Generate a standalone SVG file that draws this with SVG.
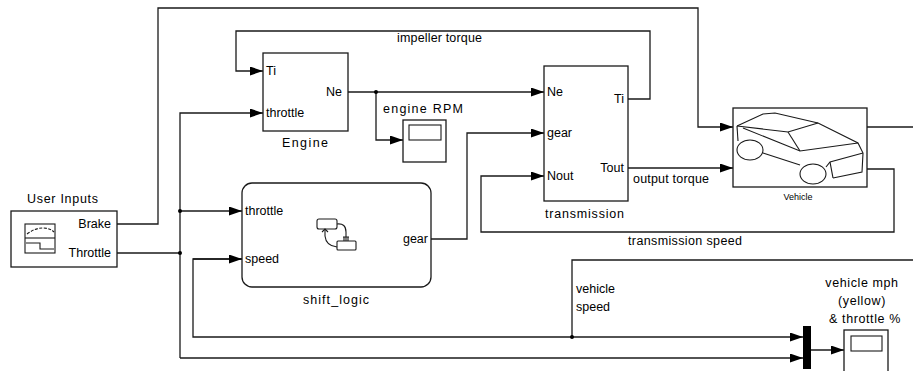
<svg xmlns="http://www.w3.org/2000/svg" width="913" height="371" viewBox="0 0 913 371">
  <style>
    .blk { fill: #fff; stroke: #1a1a1a; stroke-width: 1.3; }
    .ico { fill: none; stroke: #1a1a1a; stroke-width: 1.1; }
    .wire { fill: none; stroke: #1a1a1a; stroke-width: 1.3; }
    .arr { marker-end: url(#head); }
    .txt { font-family: "Liberation Sans", Arial, sans-serif; font-size: 12.5px; fill: #000; }
    .name { font-family: "Liberation Sans", Arial, sans-serif; font-size: 12.5px; fill: #000; }
    .end { text-anchor: end; }
    .mid { text-anchor: middle; }
  </style>
  <defs>
    <marker id="head" markerUnits="userSpaceOnUse" markerWidth="13" markerHeight="10" refX="13" refY="4.5" orient="auto">
      <path d="M0,0 L13,4.5 L0,9 z" fill="#000"/>
    </marker>
  </defs>

  <rect width="913" height="371" fill="#fff"/>

  <!-- signal lines -->
  <g id="connectors">
    <!-- Brake to Vehicle -->
    <polyline class="wire arr" points="117,224 158,224 158,8 698,8 698,127 733,127"/>
    <!-- Throttle distribution -->
    <polyline class="wire" points="117,253 180,253"/>
    <polyline class="wire arr" points="180,358 180,113 263,113"/>
    <polyline class="wire arr" points="180,211 242,211"/>
    <polyline class="wire arr" points="180,358 803,358"/>
    <!-- impeller torque feedback -->
    <polyline class="wire arr" points="628,99 650,99 650,31 236,31 236,71 263,71"/>
    <!-- engine speed -->
    <polyline class="wire arr" points="348,92 544,92"/>
    <polyline class="wire arr" points="376,92 376,140 403,140"/>
    <!-- gear -->
    <polyline class="wire arr" points="431,239 467,239 467,133 544,133"/>
    <!-- output torque -->
    <polyline class="wire arr" points="628,168 733,168"/>
    <!-- vehicle outputs -->
    <polyline class="wire" points="867,127 913,127"/>
    <polyline class="wire arr" points="867,169 894,169 894,232 481,232 481,176 544,176"/>
    <!-- vehicle speed -->
    <polyline class="wire" points="913,260 572,260 572,337"/>
    <polyline class="wire" points="242,259 193,259 193,337 572,337"/>
    <path class="wire arr" d="M193,259 L242,259"/>
    <path class="wire arr" d="M572,337 L803,337"/>
    <!-- mux to scope -->
    <polyline class="wire arr" points="811,350 844,350"/>
    <!-- branch points -->
    <circle cx="180" cy="211" r="2" fill="#000"/>
    <circle cx="180" cy="253" r="2" fill="#000"/>
    <circle cx="376" cy="92" r="2" fill="#000"/>
    <circle cx="572" cy="337" r="2" fill="#000"/>
    <!-- line labels -->
    <text class="txt" x="397" y="42" textLength="85" lengthAdjust="spacing">impeller torque</text>
    <text class="txt" x="633" y="183" textLength="76" lengthAdjust="spacing">output torque</text>
    <text class="txt" x="628" y="245" textLength="114" lengthAdjust="spacing">transmission speed</text>
    <text class="txt" x="576" y="293">vehicle</text>
    <text class="txt" x="576" y="311">speed</text>
  </g>

  <!-- User Inputs -->
  <g id="user-inputs">
    <rect class="blk" x="11" y="211" width="106" height="56"/>
    <rect class="ico" x="25" y="224" width="30" height="29"/>
    <line class="ico" x1="25" y1="238" x2="55" y2="238"/>
    <path class="ico" d="M27,234 Q35,228 43,228 Q50,228 54,232" stroke-dasharray="3,1.5"/>
    <polyline class="ico" points="26,243 40,243 40,249 54,249"/>
    <text class="txt end" x="111" y="228">Brake</text>
    <text class="txt end" x="111" y="257">Throttle</text>
    <text class="name" x="27" y="203" textLength="71" lengthAdjust="spacing">User Inputs</text>
  </g>

  <!-- Engine -->
  <g id="engine">
    <rect class="blk" x="263" y="53" width="85" height="78"/>
    <text class="txt" x="266" y="75">Ti</text>
    <text class="txt" x="266" y="117">throttle</text>
    <text class="txt end" x="342" y="96">Ne</text>
    <text class="name" x="282" y="147" textLength="46" lengthAdjust="spacing">Engine</text>
  </g>

  <!-- engine RPM scope -->
  <g id="engine-rpm">
    <rect class="blk" x="403" y="120" width="43" height="42"/>
    <rect class="ico" x="409" y="125" width="32" height="15"/>
    <text class="name" x="383" y="113" textLength="80" lengthAdjust="spacing">engine RPM</text>
  </g>

  <!-- shift_logic chart -->
  <g id="shift-logic">
    <rect class="blk" x="242" y="183" width="189" height="104" rx="10"/>
    <rect class="ico" x="317" y="219" width="20" height="10" rx="2"/>
    <rect class="ico" x="337" y="241" width="19" height="9" rx="1"/>
    <path class="ico" d="M337,224 Q346,223 346,232 L346,241"/>
    <path class="ico" d="M343,237 L349,237 M344,237 L344,241 M348,237 L348,241"/>
    <path class="ico" d="M337,247 Q326,246 325,236 L325,229"/>
    <path class="ico" d="M322,232 L325,229 L328,232"/>
    <text class="txt" x="245" y="215">throttle</text>
    <text class="txt" x="245" y="263">speed</text>
    <text class="txt end" x="428" y="243">gear</text>
    <text class="name" x="303" y="304" textLength="66" lengthAdjust="spacing">shift_logic</text>
  </g>

  <!-- transmission -->
  <g id="transmission">
    <rect class="blk" x="544" y="66" width="84" height="135"/>
    <text class="txt" x="547" y="96">Ne</text>
    <text class="txt" x="547" y="137">gear</text>
    <text class="txt" x="547" y="180">Nout</text>
    <text class="txt end" x="624" y="103">Ti</text>
    <text class="txt end" x="624" y="172">Tout</text>
    <text class="name" x="545" y="218" textLength="79" lengthAdjust="spacing">transmission</text>
  </g>

  <!-- Vehicle -->
  <g id="vehicle">
    <rect class="blk" x="733" y="108" width="134" height="79"/>
    <polyline class="ico" points="737,126 763,114 775,113 818,123 858,143 863,153 862,172 833,178"/>
    <polyline class="ico" points="737,126 788,132 818,123"/>
    <line class="ico" x1="788" y1="132" x2="800" y2="151"/>
    <polyline class="ico" points="743,128 800,151 858,143"/>
    <line class="ico" x1="763" y1="153" x2="800" y2="165"/>
    <polyline class="ico" points="826,167 830,162 863,153"/>
    <line class="ico" x1="830" y1="162" x2="833" y2="178"/>
    <line class="ico" x1="737" y1="126" x2="738" y2="141"/>
    <ellipse class="ico" cx="750" cy="150" rx="13" ry="10" fill="#fff"/>
    <ellipse class="ico" cx="813" cy="174" rx="13" ry="10" fill="#fff"/>
    <text x="798" y="200" text-anchor="middle" style="font-family:'Liberation Sans',Arial,sans-serif;font-size:9px;fill:#000">Vehicle</text>
  </g>

  <!-- Mux -->
  <g id="mux">
    <rect x="803" y="326" width="8" height="43" fill="#000"/>
  </g>

  <!-- output scope -->
  <g id="vehicle-scope">
    <rect class="blk" x="844" y="330" width="44" height="50"/>
    <rect class="ico" x="851" y="336" width="31" height="15"/>
    <text class="name mid" x="862" y="287" letter-spacing="0.6">vehicle mph</text>
    <text class="name mid" x="862" y="305" letter-spacing="0.6">(yellow)</text>
    <text class="name mid" x="865" y="323" letter-spacing="0.6">&amp; throttle %</text>
  </g>
</svg>
